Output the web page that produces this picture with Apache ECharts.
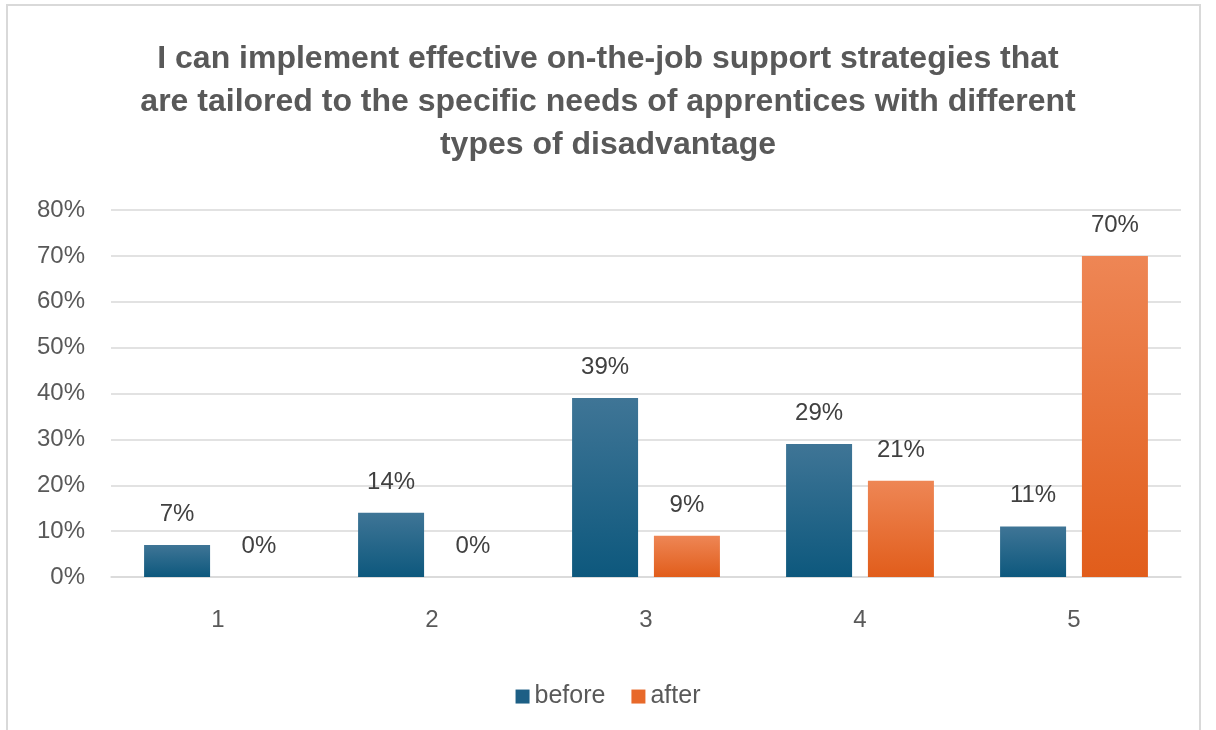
<!DOCTYPE html>
<html>
<head>
    <title>On-the-job support strategies</title>
    <script src="https://cdn.jsdelivr.net/npm/echarts@6/dist/echarts.min.js"></script>
    <style>
        body { margin: 0; background: #fff; }
        #grafico { width: 1216px; height: 730px; }
    </style>
</head>
<body>
    <div id="grafico"></div>
    <script>
        // Datos del gráfico
        const categorias = ['1', '2', '3', '4', '5'];
        const antes = [7, 14, 39, 29, 11];
        const despues = [0, 0, 9, 21, 70];
        const nombresSeries = ['before', 'after'];
        const titulo = 'I can implement effective on-the-job support strategies that\nare tailored to the specific needs of apprentices with different\ntypes of disadvantage';

        const fuente = '"Liberation Sans", "DejaVu Sans", sans-serif';

        function degradado(arriba, abajo) {
            return new echarts.graphic.LinearGradient(0, 0, 0, 1, [
                { offset: 0, color: arriba },
                { offset: 1, color: abajo }
            ]);
        }

        const grafico = echarts.init(document.getElementById('grafico'));

        const etiqueta = {
            show: true,
            position: 'top',
            distance: 10,
            formatter: p => p.value + '%',
            color: '#404040',
            fontSize: 24,
            fontFamily: fuente
        };

        grafico.setOption({
            backgroundColor: '#fff',
            graphic: [{
                type: 'rect',
                shape: { x: 7, y: 5, width: 1193, height: 740 },
                style: { fill: 'none', stroke: '#d9d9d9', lineWidth: 2 },
                silent: true
            }],
            title: {
                text: titulo,
                left: 'center',
                top: 33,
                textStyle: {
                    color: '#595959',
                    fontSize: 32,
                    fontWeight: 'bold',
                    fontFamily: fuente,
                    lineHeight: 43
                }
            },
            legend: {
                data: [
                    { name: nombresSeries[0], itemStyle: { color: '#1d5f85' } },
                    { name: nombresSeries[1], itemStyle: { color: '#e8692a' } }
                ],
                left: 'center',
                top: 670,
                itemWidth: 14,
                itemHeight: 14,
                itemGap: 26,
                icon: 'rect',
                textStyle: { color: '#595959', fontSize: 25, fontFamily: fuente }
            },
            grid: { left: 111, right: 35, top: 210, bottom: 153, containLabel: false },
            xAxis: {
                type: 'category',
                data: categorias,
                axisLine: { lineStyle: { color: '#d9d9d9', width: 1.5 } },
                axisTick: { show: false },
                axisLabel: { color: '#595959', fontSize: 24, fontFamily: fuente, margin: 23 }
            },
            yAxis: {
                type: 'value',
                min: 0,
                max: 80,
                interval: 10,
                axisLine: { show: false },
                axisTick: { show: false },
                splitLine: { lineStyle: { color: '#d9d9d9', width: 1.5 } },
                axisLabel: {
                    formatter: '{value}%',
                    color: '#595959',
                    fontSize: 24,
                    fontFamily: fuente,
                    margin: 26
                }
            },
            series: [
                {
                    name: nombresSeries[0],
                    type: 'bar',
                    data: antes,
                    barWidth: 66,
                    barGap: '24%',
                    itemStyle: { color: degradado('#3f7596', '#0d587d') },
                    label: etiqueta
                },
                {
                    name: nombresSeries[1],
                    type: 'bar',
                    data: despues,
                    barWidth: 66,
                    itemStyle: { color: degradado('#ee8655', '#e15d1b') },
                    label: etiqueta
                }
            ]
        });
    </script>
</body>
</html>
